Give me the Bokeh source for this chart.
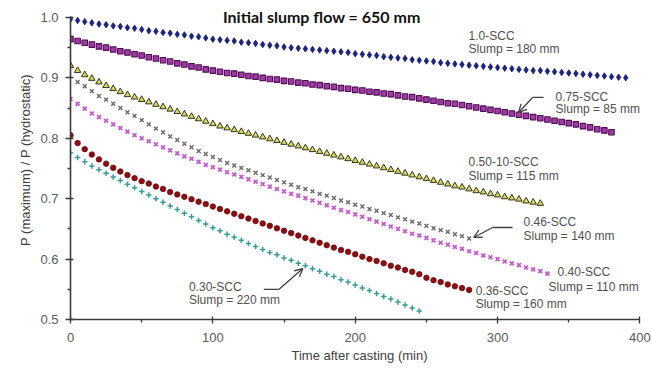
from bokeh.plotting import figure
from bokeh.models import (Label, Arrow, OpenHead, Range1d, ColumnDataSource,
                          FixedTicker, CustomJSTickFormatter, Title)
from bokeh.embed import file_html
from bokeh.resources import INLINE

# ---------------- data ----------------
STEP_MIN = 5  # recording interval, minutes

scc_100 = [0.997, 0.995, 0.993, 0.991, 0.989, 0.988, 0.986, 0.985, 0.983, 0.982,
           0.980, 0.978, 0.977, 0.975, 0.974, 0.972, 0.971, 0.969, 0.968, 0.966,
           0.964, 0.963, 0.962, 0.961, 0.959, 0.958, 0.957, 0.955, 0.954, 0.953,
           0.951, 0.950, 0.949, 0.948, 0.947, 0.946, 0.945, 0.944, 0.943, 0.942,
           0.940, 0.939, 0.938, 0.937, 0.935, 0.934, 0.933, 0.932, 0.930, 0.929,
           0.928, 0.927, 0.925, 0.924, 0.923, 0.922, 0.921, 0.920, 0.919, 0.918,
           0.917, 0.916, 0.915, 0.914, 0.913, 0.912, 0.912, 0.911, 0.910, 0.909,
           0.908, 0.907, 0.906, 0.905, 0.904, 0.903, 0.902, 0.901, 0.900]
scc_075 = [0.964, 0.961, 0.958, 0.955, 0.952, 0.950, 0.947, 0.944, 0.942, 0.939,
           0.937, 0.934, 0.932, 0.929, 0.927, 0.924, 0.922, 0.919, 0.917, 0.914,
           0.912, 0.910, 0.908, 0.907, 0.905, 0.903, 0.902, 0.900, 0.898, 0.897,
           0.895, 0.894, 0.892, 0.891, 0.889, 0.888, 0.886, 0.885, 0.883, 0.882,
           0.880, 0.879, 0.877, 0.876, 0.874, 0.873, 0.871, 0.869, 0.868, 0.866,
           0.864, 0.862, 0.860, 0.858, 0.857, 0.855, 0.853, 0.851, 0.849, 0.847,
           0.845, 0.843, 0.841, 0.839, 0.837, 0.835, 0.833, 0.831, 0.829, 0.827,
           0.825, 0.823, 0.820, 0.818, 0.815, 0.813, 0.810]
scc_050 = [0.920, 0.912, 0.905, 0.899, 0.893, 0.887, 0.882, 0.877, 0.872, 0.868,
           0.864, 0.860, 0.856, 0.852, 0.848, 0.844, 0.840, 0.836, 0.832, 0.828,
           0.824, 0.820, 0.817, 0.814, 0.811, 0.808, 0.805, 0.802, 0.799, 0.796,
           0.793, 0.790, 0.787, 0.784, 0.781, 0.778, 0.775, 0.772, 0.769, 0.766,
           0.763, 0.760, 0.757, 0.754, 0.751, 0.748, 0.745, 0.742, 0.739, 0.736,
           0.733, 0.730, 0.727, 0.724, 0.721, 0.719, 0.716, 0.713, 0.711, 0.708,
           0.706, 0.703, 0.701, 0.699, 0.696, 0.694, 0.692]
scc_046 = [0.893, 0.886, 0.878, 0.870, 0.864, 0.857, 0.850, 0.843, 0.837, 0.830,
           0.823, 0.816, 0.810, 0.803, 0.797, 0.791, 0.785, 0.779, 0.774, 0.769,
           0.764, 0.759, 0.755, 0.751, 0.747, 0.743, 0.739, 0.735, 0.731, 0.727,
           0.723, 0.719, 0.716, 0.712, 0.708, 0.705, 0.701, 0.697, 0.694, 0.690,
           0.687, 0.683, 0.680, 0.676, 0.673, 0.669, 0.666, 0.662, 0.659, 0.655,
           0.651, 0.648, 0.645, 0.641, 0.638, 0.634]
scc_040 = [0.865, 0.857, 0.849, 0.841, 0.835, 0.829, 0.823, 0.817, 0.811, 0.805,
           0.800, 0.795, 0.790, 0.785, 0.780, 0.775, 0.770, 0.766, 0.761, 0.756,
           0.752, 0.748, 0.744, 0.740, 0.736, 0.732, 0.728, 0.724, 0.720, 0.716,
           0.712, 0.708, 0.705, 0.701, 0.697, 0.693, 0.689, 0.685, 0.681, 0.678,
           0.674, 0.670, 0.666, 0.662, 0.658, 0.654, 0.650, 0.646, 0.642, 0.639,
           0.635, 0.631, 0.627, 0.624, 0.620, 0.617, 0.613, 0.610, 0.606, 0.603,
           0.600, 0.596, 0.593, 0.590, 0.586, 0.583, 0.580, 0.576]
scc_036 = [0.805, 0.792, 0.782, 0.773, 0.765, 0.758, 0.751, 0.745, 0.739, 0.734,
           0.729, 0.725, 0.720, 0.716, 0.711, 0.707, 0.703, 0.699, 0.695, 0.691,
           0.687, 0.683, 0.679, 0.675, 0.671, 0.667, 0.663, 0.659, 0.655, 0.651,
           0.647, 0.643, 0.639, 0.635, 0.631, 0.627, 0.623, 0.619, 0.615, 0.612,
           0.608, 0.604, 0.600, 0.597, 0.593, 0.589, 0.586, 0.582, 0.579, 0.575,
           0.569, 0.565, 0.562, 0.558, 0.555, 0.552, 0.549]
scc_030 = [0.776, 0.768, 0.761, 0.754, 0.748, 0.742, 0.736, 0.730, 0.724, 0.718,
           0.712, 0.706, 0.700, 0.694, 0.688, 0.682, 0.676, 0.670, 0.664, 0.658,
           0.652, 0.647, 0.641, 0.636, 0.631, 0.626, 0.621, 0.616, 0.611, 0.607,
           0.602, 0.598, 0.593, 0.589, 0.584, 0.580, 0.575, 0.571, 0.566, 0.562,
           0.557, 0.552, 0.548, 0.543, 0.538, 0.534, 0.529, 0.524, 0.519, 0.514]

start_min = {"1.0": 0, "0.75": 0, "0.50": 0, "0.46": 5, "0.40": 0, "0.36": 0, "0.30": 0}

x_ticks = [0, 100, 200, 300, 400]
x_minor = [50, 150, 250, 350]
y_ticks = [0.5, 0.6, 0.7, 0.8, 0.9, 1.0]
y_minor = [0.55, 0.65, 0.75, 0.85, 0.95]

title_text = "Initial slump flow = 650 mm"
x_label = "Time after casting (min)"
y_label = "P (maximum) / P (hydrostatic)"

# annotation texts: (x, y, text)
notes = [
    (279.6, 0.9685, "1.0-SCC"), (279.6, 0.947, "Slump = 180 mm"),
    (340.7, 0.869, "0.75-SCC"), (340.7, 0.848, "Slump = 85 mm"),
    (279.6, 0.760, "0.50-10-SCC"), (279.6, 0.737, "Slump = 115 mm"),
    (318.2, 0.662, "0.46-SCC"), (318.2, 0.6374, "Slump = 140 mm"),
    (342.1, 0.578, "0.40-SCC"), (335.8, 0.5546, "Slump = 110 mm"),
    (284.6, 0.5464, "0.36-SCC"), (284.6, 0.525, "Slump = 160 mm"),
    (83.2, 0.5546, "0.30-SCC"), (83.2, 0.5315, "Slump = 220 mm"),
]
# leader arrows: polyline (x0,y0)->(x1,y1)->(x2,y2), head at the last point
leaders = [
    ((332.3, 0.8675), (324.6, 0.8675), (314.7, 0.8427)),
    ((310.5, 0.6523), (296.5, 0.6523), (283.2, 0.6358)),
    ((135.8, 0.5497), (146.3, 0.5497), (163.2, 0.5844)),
]

# ---------------- figure ----------------
# frame reaches above 1.0 so the title can sit there; axis line stops at 1.0
p = figure(width=652, height=368, output_backend="svg", toolbar_location=None,
           x_range=Range1d(0, 406), y_range=Range1d(0.5, 1.028),
           min_border_left=70, min_border_right=4, min_border_top=0,
           min_border_bottom=49)
p.outline_line_color = None
p.grid.grid_line_color = None
p.background_fill_color = "white"
p.border_fill_color = "white"

axis_color = "#3a3a3a"
tick_font = "Liberation Sans"
for ax in (p.xaxis[0], p.yaxis[0]):
    ax.axis_line_color = axis_color
    ax.axis_line_width = 1.6
    ax.major_tick_line_color = axis_color
    ax.minor_tick_line_color = axis_color
    ax.major_tick_line_width = 1.3
    ax.minor_tick_line_width = 1.3
    ax.major_label_text_font = tick_font
    ax.major_label_text_font_size = "13px"
    ax.major_label_text_color = "#5a5a5a"
    ax.axis_label_text_font = tick_font
    ax.axis_label_text_font_size = "13px"
    ax.axis_label_text_font_style = "normal"
    ax.axis_label_text_color = "#404040"

p.xaxis.bounds = (0, 400)
p.yaxis.bounds = (0.5, 1.0)
p.xaxis[0].ticker = FixedTicker(ticks=x_ticks, minor_ticks=x_minor)
p.yaxis[0].ticker = FixedTicker(ticks=y_ticks, minor_ticks=y_minor)
p.yaxis[0].formatter = CustomJSTickFormatter(code="return tick.toFixed(1);")

p.xaxis.major_tick_in = 3
p.xaxis.major_tick_out = 4
p.xaxis.minor_tick_in = 0
p.xaxis.minor_tick_out = 3
p.yaxis.major_tick_in = 3
p.yaxis.major_tick_out = 5
p.yaxis.minor_tick_in = 0
p.yaxis.minor_tick_out = 3
p.xaxis.major_label_standoff = 9
p.yaxis.major_label_standoff = 7
p.xaxis.axis_label = x_label
p.xaxis.axis_label_standoff = 3

# y-axis label as a side title so it can be centred on the 0.5-1.0 span
p.add_layout(Title(text=y_label, align="center", offset=-9, standoff=10,
                   text_font=tick_font, text_font_size="13px",
                   text_font_style="normal", text_color="#404040"), "left")


def times(vals, start):
    return [start + STEP_MIN * i for i in range(len(vals))]


series = [
    ("1.0", scc_100, dict(marker="diamond", size=6.5, fill_color="#1c2488", line_color="#10166a", line_width=0.8)),
    ("0.75", scc_075, dict(marker="square", size=5.5, fill_color="#a23aa6", line_color="#4e0d54", line_width=1.1)),
    ("0.50", scc_050, dict(marker="triangle", size=6.5, fill_color="#d8d860", line_color="#353515", line_width=1.0)),
    ("0.46", scc_046, dict(marker="x", size=5.5, line_color="#6a6a6a", line_width=1.4)),
    ("0.40", scc_040, dict(marker="x", size=5.5, line_color="#c45ccc", line_width=1.8)),
    ("0.36", scc_036, dict(marker="circle", size=5.5, fill_color="#8e0c12", line_color="#6a0a0e", line_width=0.8)),
    ("0.30", scc_030, dict(marker="cross", size=5.5, line_color="#3b9c9c", line_width=1.5)),
]
for name, vals, style in series:
    src = ColumnDataSource(dict(t=times(vals, start_min[name]), y=vals))
    p.scatter("t", "y", source=src, **style)

# title inside the plot area
p.add_layout(Label(x=176.5, y=1.002, text=title_text, text_align="center",
                   text_baseline="middle", text_font="Lato",
                   text_font_style="bold", text_font_size="16px",
                   text_color="#111111"))

for (x, y, t) in notes:
    p.add_layout(Label(x=x, y=y, text=t, text_align="left", text_baseline="middle",
                       text_font="Liberation Sans", text_font_size="12px",
                       text_color="#505050"))

for (a, b, c) in leaders:
    p.add_layout(Arrow(x_start=a[0], y_start=a[1], x_end=b[0], y_end=b[1],
                       end=None, line_color="#404040", line_width=1.3))
    p.add_layout(Arrow(x_start=b[0], y_start=b[1], x_end=c[0], y_end=c[1],
                       end=OpenHead(size=8, line_color="#404040", line_width=1.3),
                       line_color="#404040", line_width=1.3))

open("out.html", "w").write(file_html(p, INLINE))
